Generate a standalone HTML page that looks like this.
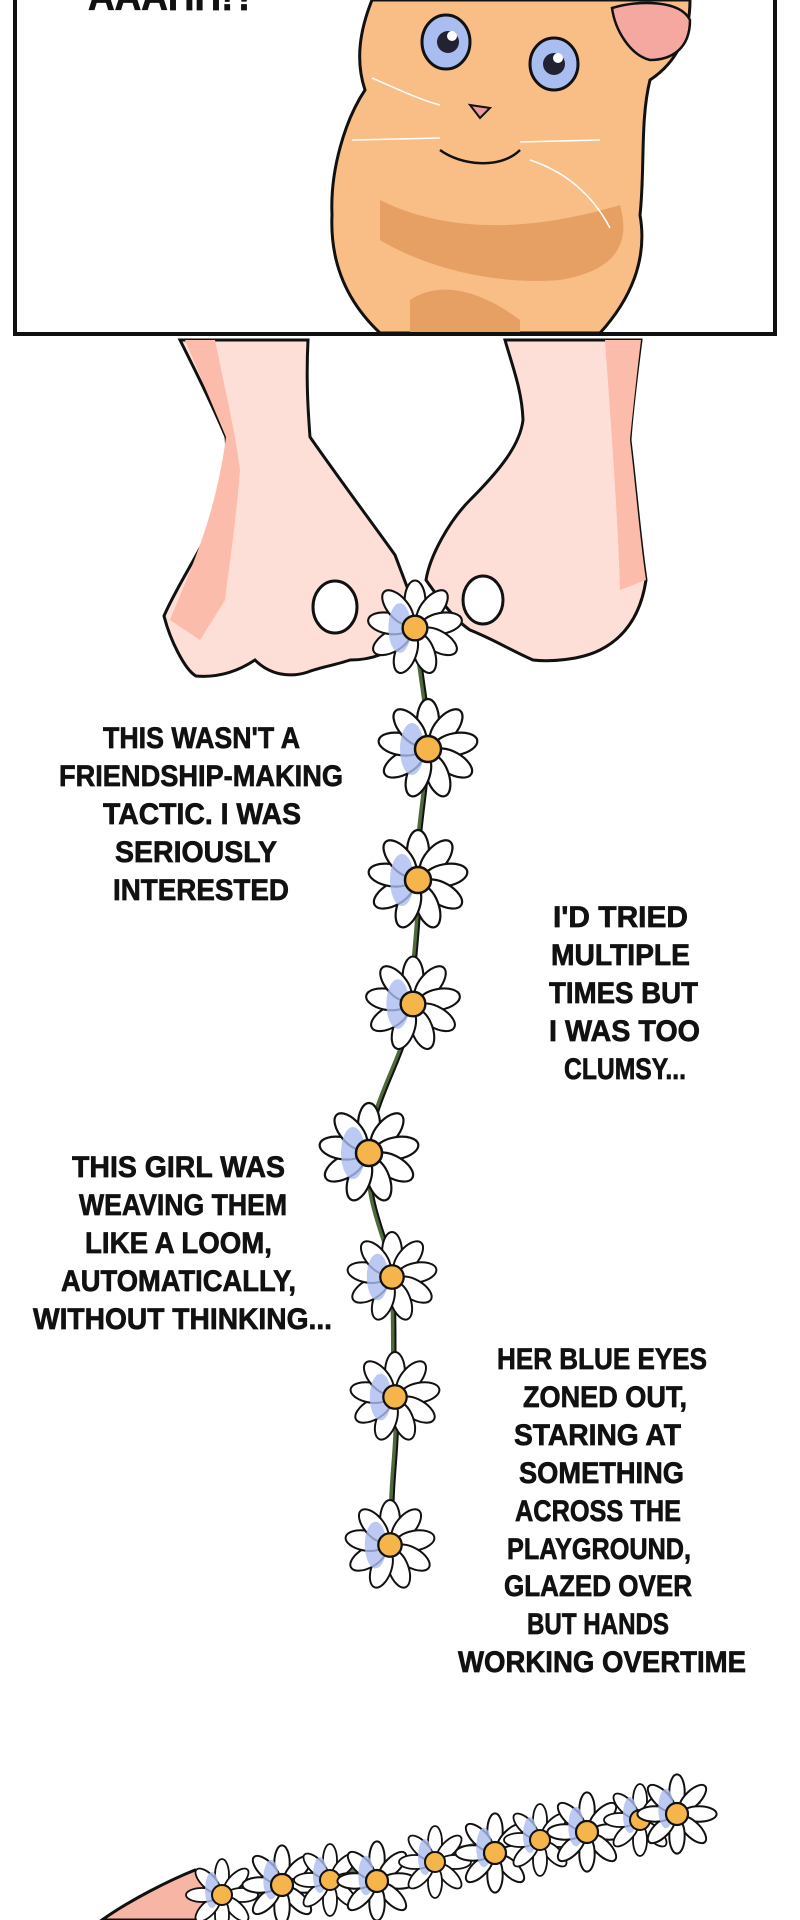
<!DOCTYPE html>
<html><head><meta charset="utf-8">
<style>
html,body{margin:0;padding:0;background:#fff;}
svg{display:block;}
text{font-family:"Liberation Sans",sans-serif;font-weight:bold;fill:#111;stroke:#111;stroke-width:0.7;}
</style></head>
<body>
<svg width="800" height="1920" viewBox="0 0 800 1920" xmlns="http://www.w3.org/2000/svg">
<defs>
<g id="daisy">
  <g fill="#fff" stroke="#111" stroke-width="2.2">
    <ellipse cx="0" cy="-28" rx="11" ry="22"/>
    <ellipse cx="0" cy="-28" rx="11" ry="22" transform="rotate(40)"/>
    <ellipse cx="0" cy="-28" rx="11" ry="22" transform="rotate(80)"/>
    <ellipse cx="0" cy="-28" rx="11" ry="22" transform="rotate(120)"/>
    <ellipse cx="0" cy="-28" rx="11" ry="22" transform="rotate(160)"/>
    <ellipse cx="0" cy="-28" rx="11" ry="22" transform="rotate(200)"/>
    <ellipse cx="0" cy="-28" rx="11" ry="22" transform="rotate(240)"/>
    <ellipse cx="0" cy="-28" rx="11" ry="22" transform="rotate(280)"/>
    <ellipse cx="0" cy="-28" rx="11" ry="22" transform="rotate(320)"/>
  </g>
  <ellipse cx="-16" cy="0" rx="12" ry="26" fill="#aabcf0" opacity="0.8"/>
  <circle cx="0" cy="0" r="13" fill="#f6b54a" stroke="#111" stroke-width="2.5"/>
</g>
<g id="sdaisy">
  <g fill="#fff" stroke="#111" stroke-width="1.8">
    <ellipse cx="0" cy="-20" rx="7" ry="16"/>
    <ellipse cx="0" cy="-20" rx="7" ry="16" transform="rotate(45)"/>
    <ellipse cx="0" cy="-20" rx="7" ry="16" transform="rotate(90)"/>
    <ellipse cx="0" cy="-20" rx="7" ry="16" transform="rotate(135)"/>
    <ellipse cx="0" cy="-20" rx="7" ry="16" transform="rotate(180)"/>
    <ellipse cx="0" cy="-20" rx="7" ry="16" transform="rotate(225)"/>
    <ellipse cx="0" cy="-20" rx="7" ry="16" transform="rotate(270)"/>
    <ellipse cx="0" cy="-20" rx="7" ry="16" transform="rotate(315)"/>
  </g>
  <ellipse cx="-10" cy="-5" rx="7" ry="18" fill="#aabcf0" opacity="0.8"/>
  <circle cx="0" cy="0" r="10" fill="#f6b54a" stroke="#111" stroke-width="2"/>
</g>
</defs>

<text x="88" y="10" font-size="42" textLength="168" lengthAdjust="spacingAndGlyphs">AAAHH!?</text>
<path d="M372,0 L690,0 C690,30 680,60 650,80 C640,120 645,170 640,215 C648,260 630,300 600,333 L380,333 C345,300 330,260 332,215 C330,170 345,120 365,90 C355,60 360,30 372,0 Z" fill="#f9be86" stroke="#111" stroke-width="3"/>
<path d="M380,200 C440,230 520,235 620,205 C630,240 620,270 560,280 C500,285 430,270 380,240 Z" fill="#e6a064"/>
<path d="M410,300 C440,280 480,290 520,320 L520,333 L410,333 Z" fill="#e6a064"/>
<path d="M612,8 C640,0 680,0 690,20 C690,50 670,60 650,60 C630,55 615,30 612,8 Z" fill="#f4a8a0" stroke="#111" stroke-width="2.5"/>
<ellipse cx="446" cy="42" rx="24" ry="27" fill="#a9bdf0" stroke="#111" stroke-width="3"/>
<circle cx="448" cy="42" r="11" fill="#223"/>
<circle cx="452" cy="36" r="5" fill="#fff"/>
<ellipse cx="554" cy="64" rx="24" ry="26" fill="#a9bdf0" stroke="#111" stroke-width="3"/>
<circle cx="554" cy="64" r="11" fill="#223"/>
<circle cx="558" cy="58" r="5" fill="#fff"/>
<path d="M470,105 L490,108 L480,118 Z" fill="#ef9a9a" stroke="#111" stroke-width="2"/>
<path d="M440,150 C460,165 500,170 520,150" fill="none" stroke="#111" stroke-width="2.5"/>
<g stroke="#fff" stroke-width="1.5" fill="none">
<path d="M372,78 C400,90 420,100 440,105"/><path d="M352,140 L440,138"/>
<path d="M520,142 L600,140"/><path d="M530,160 C560,170 590,190 610,228"/>
</g>
<path d="M15,0 L15,382 L775,382 L775,0" fill="none" stroke="#111" stroke-width="4"/>
<rect x="15" y="332" width="760" height="4" fill="#111"/>
<rect x="0" y="336" width="800" height="50" fill="#fff"/>

<path d="M180,340 L308,340 C306,380 308,410 310,437 C340,480 370,520 395,555 L412,600 C420,630 395,660 350,660 C335,665 318,668 308,672 C290,678 270,675 255,660 C240,670 220,678 196,676 C185,670 170,640 164,616 C175,590 195,560 215,520 C225,480 228,455 226,437 C210,400 195,370 180,340 Z" fill="#fddfd7" stroke="#111" stroke-width="3"/>
<path d="M185,340 L215,340 C225,390 235,430 240,470 C236,520 230,560 225,600 L200,640 L170,620 C190,570 215,520 226,437 Z" fill="#fbbcab"/>
<path d="M505,340 L641,340 C636,380 632,410 630,440 C636,490 640,540 646,580 C640,620 620,640 600,650 C580,660 550,662 533,660 C510,650 495,640 470,630 C455,620 440,600 426,580 C430,555 450,520 470,500 C500,470 520,445 523,420 C522,390 512,365 505,340 Z" fill="#fddfd7" stroke="#111" stroke-width="3"/>
<path d="M605,340 L641,340 C636,380 632,420 630,440 C636,490 640,540 646,580 L620,590 C618,520 612,440 605,340 Z" fill="#fbbcab"/>
<ellipse cx="335" cy="607" rx="22" ry="26" fill="#fff" stroke="#111" stroke-width="3"/>
<ellipse cx="483" cy="600" rx="20" ry="24" fill="#fff" stroke="#111" stroke-width="3"/>

<path d="M415,625 C420,680 430,720 428,749 C425,800 415,840 418,880 C420,930 410,970 413,1004 C405,1060 370,1100 369,1153 C365,1210 390,1240 392,1277 C395,1330 392,1370 395,1397 C400,1450 385,1500 395,1545" fill="none" stroke="#4f6a3a" stroke-width="5"/>
<path d="M415,625 C420,680 430,720 428,749 C425,800 415,840 418,880 C420,930 410,970 413,1004 C405,1060 370,1100 369,1153 C365,1210 390,1240 392,1277 C395,1330 392,1370 395,1397 C400,1450 385,1500 395,1545" fill="none" stroke="#111" stroke-width="2" transform="translate(2,0)"/>

<use href="#daisy" transform="translate(415,628) scale(0.95)"/>
<use href="#daisy" transform="translate(428,749)"/>
<use href="#daisy" transform="translate(418,880)"/>
<use href="#daisy" transform="translate(413,1004) scale(0.95)"/>
<use href="#daisy" transform="translate(369,1153)"/>
<use href="#daisy" transform="translate(392,1277) scale(0.9)"/>
<use href="#daisy" transform="translate(395,1397) scale(0.9)"/>
<use href="#daisy" transform="translate(390,1545) scale(0.9)"/>

<g font-size="30">
<text x="103" y="748" textLength="197" lengthAdjust="spacingAndGlyphs">THIS WASN'T A</text>
<text x="59" y="786" textLength="284" lengthAdjust="spacingAndGlyphs">FRIENDSHIP-MAKING</text>
<text x="103" y="824" textLength="198" lengthAdjust="spacingAndGlyphs">TACTIC. I WAS</text>
<text x="115" y="862" textLength="162" lengthAdjust="spacingAndGlyphs">SERIOUSLY</text>
<text x="113" y="900" textLength="176" lengthAdjust="spacingAndGlyphs">INTERESTED</text>

<text x="553" y="927" textLength="135" lengthAdjust="spacingAndGlyphs">I'D TRIED</text>
<text x="551" y="965" textLength="139" lengthAdjust="spacingAndGlyphs">MULTIPLE</text>
<text x="549" y="1003" textLength="149" lengthAdjust="spacingAndGlyphs">TIMES BUT</text>
<text x="549" y="1041" textLength="151" lengthAdjust="spacingAndGlyphs">I WAS TOO</text>
<text x="564" y="1079" textLength="122" lengthAdjust="spacingAndGlyphs">CLUMSY...</text>

<text x="72" y="1177" textLength="213" lengthAdjust="spacingAndGlyphs">THIS GIRL WAS</text>
<text x="79" y="1215" textLength="208" lengthAdjust="spacingAndGlyphs">WEAVING THEM</text>
<text x="85" y="1253" textLength="187" lengthAdjust="spacingAndGlyphs">LIKE A LOOM,</text>
<text x="61" y="1291" textLength="235" lengthAdjust="spacingAndGlyphs">AUTOMATICALLY,</text>
<text x="33" y="1329" textLength="299" lengthAdjust="spacingAndGlyphs">WITHOUT THINKING...</text>

<text x="497" y="1369" textLength="210" lengthAdjust="spacingAndGlyphs">HER BLUE EYES</text>
<text x="523" y="1407" textLength="164" lengthAdjust="spacingAndGlyphs">ZONED OUT,</text>
<text x="514" y="1445" textLength="167" lengthAdjust="spacingAndGlyphs">STARING AT</text>
<text x="519" y="1483" textLength="165" lengthAdjust="spacingAndGlyphs">SOMETHING</text>
<text x="515" y="1521" textLength="166" lengthAdjust="spacingAndGlyphs">ACROSS THE</text>
<text x="507" y="1559" textLength="184" lengthAdjust="spacingAndGlyphs">PLAYGROUND,</text>
<text x="504" y="1596" textLength="188" lengthAdjust="spacingAndGlyphs">GLAZED OVER</text>
<text x="527" y="1634" textLength="142" lengthAdjust="spacingAndGlyphs">BUT HANDS</text>
<text x="458" y="1672" textLength="288" lengthAdjust="spacingAndGlyphs">WORKING OVERTIME</text>
</g>

<path d="M102,1920 C130,1900 170,1880 195,1870 C210,1875 212,1900 205,1920 Z" fill="#f6b5a5" stroke="#111" stroke-width="3"/>
<path d="M220,1900 L700,1800" stroke="#5f7a4a" stroke-width="8"/>
<use href="#sdaisy" transform="translate(222,1895)"/>
<use href="#sdaisy" transform="translate(282,1885) scale(1.1)"/>
<use href="#sdaisy" transform="translate(330,1880)"/>
<use href="#sdaisy" transform="translate(377,1881) scale(1.1)"/>
<use href="#sdaisy" transform="translate(435,1862)"/>
<use href="#sdaisy" transform="translate(495,1853) scale(1.1)"/>
<use href="#sdaisy" transform="translate(540,1840)"/>
<use href="#sdaisy" transform="translate(587,1832) scale(1.1)"/>
<use href="#sdaisy" transform="translate(640,1820)"/>
<use href="#sdaisy" transform="translate(677,1814) scale(1.1)"/>
</svg>
</body></html>
